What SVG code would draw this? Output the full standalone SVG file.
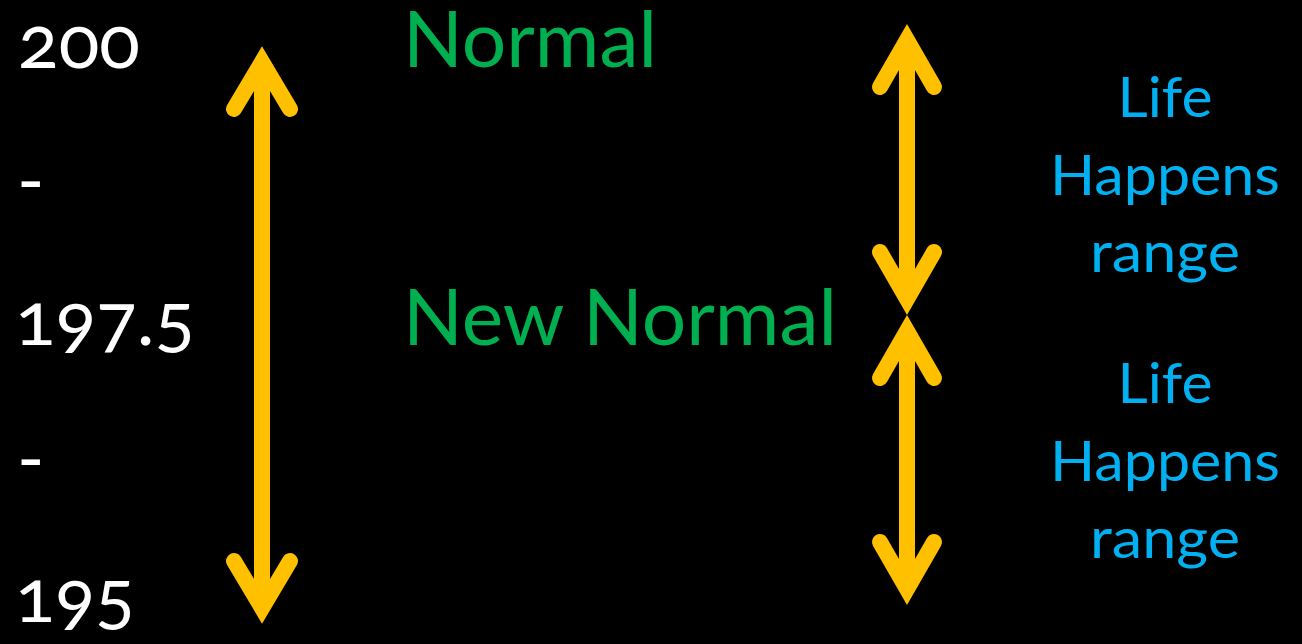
<svg xmlns="http://www.w3.org/2000/svg" width="1302" height="644" viewBox="0 0 1302 644">
<style>
.num{font-family:Lato,"Open Sans","DejaVu Sans",sans-serif;font-size:74px;fill:#FFFFFF;font-variant-numeric:oldstyle-nums;font-feature-settings:"onum" 1}
.grn{font-family:Lato,"Open Sans","DejaVu Sans",sans-serif;font-size:78px;fill:#00B050}
.blu{font-family:Lato,"Open Sans","DejaVu Sans",sans-serif;font-size:57px;fill:#00B0F0;text-anchor:middle}
.shaft{stroke:#FFC000;stroke-width:16;fill:none;stroke-linecap:butt}
.head{stroke:#FFC000;stroke-width:16;fill:none;stroke-linecap:round;stroke-linejoin:miter;stroke-miterlimit:10}
</style>
<rect width="1302" height="644" fill="#000000"/>
<g id="scale">
<text class="num" x="18" y="68" textLength="122" lengthAdjust="spacingAndGlyphs">200</text>
<text class="num" x="17" y="206">-</text>
<text class="num" x="15" y="345" textLength="180" lengthAdjust="spacingAndGlyphs">197.5</text>
<text class="num" x="17" y="484">-</text>
<text class="num" x="15" y="622" textLength="120" lengthAdjust="spacingAndGlyphs">195</text>
</g>
<g id="normal">
<text class="grn" x="403" y="67" textLength="254" lengthAdjust="spacingAndGlyphs">Normal</text>
</g>
<g id="new-normal">
<text class="grn" x="403" y="345" textLength="434" lengthAdjust="spacingAndGlyphs">New Normal</text>
</g>
<g id="life-happens-1">
<text class="blu" x="1165" y="117" textLength="95" lengthAdjust="spacingAndGlyphs">Life</text>
<text class="blu" x="1165" y="195" textLength="230" lengthAdjust="spacingAndGlyphs">Happens</text>
<text class="blu" x="1165" y="272" textLength="150" lengthAdjust="spacingAndGlyphs">range</text>
</g>
<g id="life-happens-2">
<text class="blu" x="1165" y="403" textLength="95" lengthAdjust="spacingAndGlyphs">Life</text>
<text class="blu" x="1165" y="481" textLength="230" lengthAdjust="spacingAndGlyphs">Happens</text>
<text class="blu" x="1165" y="558" textLength="150" lengthAdjust="spacingAndGlyphs">range</text>
</g>
<g id="connectors">
<line class="shaft" x1="262" y1="64" x2="262" y2="606"/>
<polyline class="head" points="234,109 262,62 290,109"/>
<polyline class="head" points="234,561 262,608 290,561"/>
<line class="shaft" x1="907" y1="42" x2="907" y2="297"/>
<polyline class="head" points="880,87 907,40 934,87"/>
<polyline class="head" points="880,252 907,299 934,252"/>
<line class="shaft" x1="907" y1="333" x2="907" y2="587"/>
<polyline class="head" points="880,378 907,331 934,378"/>
<polyline class="head" points="880,542 907,589 934,542"/>
</g>
</svg>
